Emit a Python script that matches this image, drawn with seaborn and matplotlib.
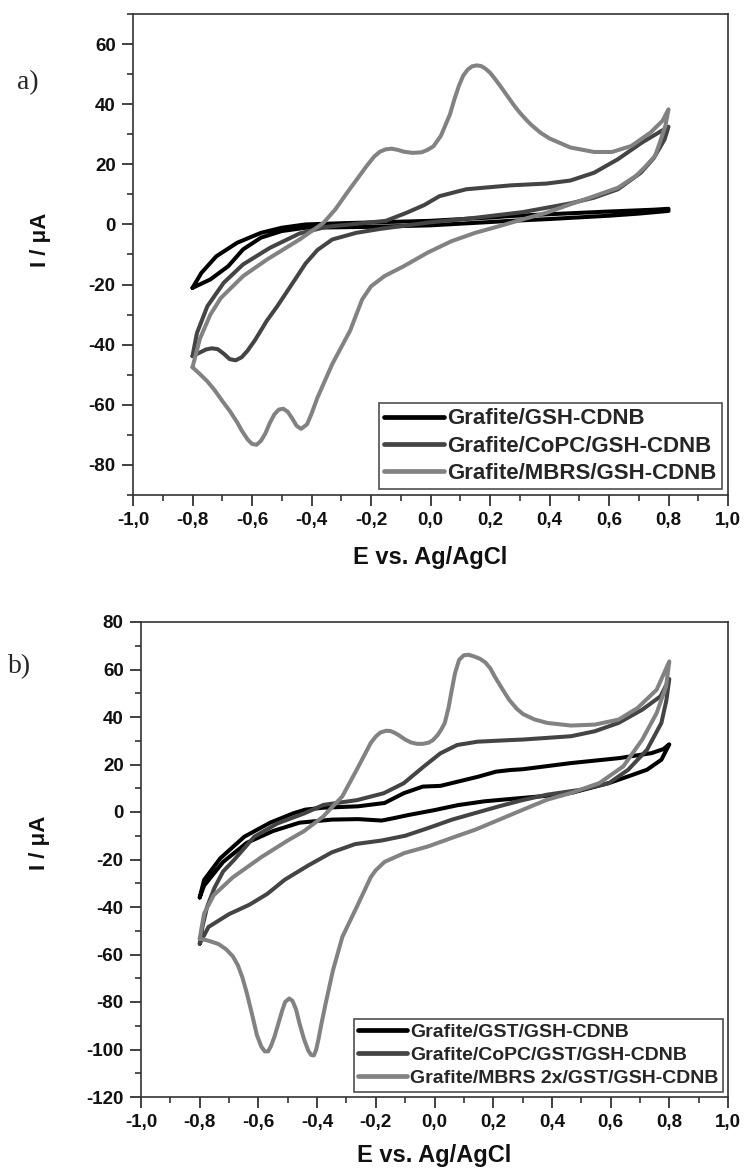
import numpy as np
import pandas as pd
import matplotlib
matplotlib.use("Agg")
import matplotlib.pyplot as plt
from matplotlib.ticker import MultipleLocator, FuncFormatter
import seaborn as sns

# ---------------- panel a: cyclic voltammograms ----------------
# anodic sweep (-0.8 -> 0.8 V) then cathodic sweep (0.8 -> -0.8 V)
a_black_fwd_E = [-0.80, -0.77, -0.72, -0.65, -0.57, -0.50, -0.42, -0.30, -0.15, 0.00, 0.20, 0.27, 0.40, 0.60, 0.75, 0.80]
a_black_fwd_I = [-21.1, -16.1, -10.6, -6.1, -2.8, -1.1, 0.0, 0.4, 0.8, 1.2, 2.3, 2.8, 3.4, 4.3, 4.9, 5.2]
a_black_rev_E = [0.80, 0.70, 0.60, 0.40, 0.27, 0.20, 0.00, -0.20, -0.42, -0.50, -0.57, -0.63, -0.68, -0.74, -0.80]
a_black_rev_I = [4.5, 3.6, 2.9, 1.8, 1.2, 0.8, -0.3, -0.8, -1.1, -2.2, -4.4, -8.3, -13.9, -18.3, -21.1]

a_copc_fwd_E = [-0.80, -0.785, -0.75, -0.695, -0.63, -0.54, -0.44, -0.35, -0.25, -0.15, -0.08, -0.02, 0.03, 0.12, 0.27, 0.39, 0.47, 0.55, 0.63, 0.71, 0.80]
a_copc_fwd_I = [-43.8, -36.1, -27.2, -19.4, -13.3, -7.8, -3.0, -0.8, 0.2, 1.2, 3.9, 6.5, 9.4, 11.7, 13.0, 13.6, 14.6, 17.2, 21.7, 27.2, 32.5]
a_copc_rev_E = [0.80, 0.787, 0.75, 0.707, 0.63, 0.55, 0.47, 0.31, 0.15, -0.01, -0.17, -0.25, -0.33, -0.38, -0.42, -0.46, -0.515, -0.55, -0.59, -0.615, -0.635, -0.655, -0.675, -0.695, -0.715, -0.735, -0.755, -0.775, -0.80]
a_copc_rev_I = [32.5, 28.3, 22.0, 17.2, 11.7, 8.9, 7.0, 4.1, 2.2, 0.6, -1.5, -2.8, -5.0, -8.5, -13.0, -19.0, -27.2, -32.0, -38.5, -42.0, -44.2, -45.2, -44.8, -43.0, -41.5, -41.2, -41.6, -42.6, -43.8]

a_mbrs_fwd_E = [-0.80, -0.775, -0.74, -0.705, -0.63, -0.55, -0.44, -0.36, -0.32, -0.28, -0.215, -0.19, -0.17, -0.15, -0.13, -0.11, -0.09, -0.06, -0.03, -0.01, 0.01, 0.035, 0.05, 0.065, 0.08, 0.095, 0.11, 0.125, 0.14, 0.155, 0.17, 0.185, 0.20, 0.22, 0.24, 0.26, 0.28, 0.30, 0.32, 0.34, 0.37, 0.40, 0.47, 0.55, 0.61, 0.675, 0.74, 0.78, 0.80]
a_mbrs_fwd_I = [-47.5, -38.0, -30.0, -24.5, -17.2, -11.7, -5.0, 0.5, 5.0, 10.6, 19.4, 22.5, 24.2, 25.0, 25.2, 24.8, 24.2, 23.8, 24.0, 24.8, 26.0, 29.5, 33.0, 36.5, 41.5, 46.0, 49.5, 51.5, 52.6, 52.9, 52.7, 51.8, 50.5, 48.0, 45.3, 42.5, 39.7, 37.2, 35.0, 33.0, 30.5, 28.6, 25.6, 24.1, 24.1, 26.1, 30.6, 34.5, 38.3]
a_mbrs_rev_E = [0.80, 0.79, 0.77, 0.755, 0.72, 0.69, 0.63, 0.55, 0.47, 0.39, 0.31, 0.23, 0.15, 0.07, -0.01, -0.09, -0.155, -0.20, -0.23, -0.27, -0.33, -0.38, -0.40, -0.415, -0.435, -0.45, -0.465, -0.48, -0.495, -0.51, -0.525, -0.54, -0.555, -0.57, -0.585, -0.60, -0.615, -0.635, -0.65, -0.675, -0.70, -0.725, -0.75, -0.775, -0.80]
a_mbrs_rev_I = [38.3, 33.0, 27.0, 22.8, 19.0, 16.1, 12.2, 9.4, 6.7, 3.9, 1.7, -0.6, -2.8, -5.6, -9.4, -13.9, -17.2, -20.6, -25.0, -35.3, -46.4, -57.6, -63.0, -66.5, -68.0, -67.0, -64.5, -62.3, -61.3, -61.6, -63.2, -66.0, -69.5, -72.0, -73.3, -73.0, -71.5, -68.5, -65.8, -62.0, -58.7, -55.2, -52.2, -49.8, -47.5]

# ---------------- panel b: cyclic voltammograms ----------------
b_black_fwd_E = [-0.80, -0.785, -0.73, -0.648, -0.56, -0.48, -0.44, -0.38, -0.26, -0.17, -0.105, -0.04, 0.02, 0.08, 0.15, 0.21, 0.26, 0.30, 0.465, 0.63, 0.74, 0.78, 0.80]
b_black_fwd_I = [-36.0, -28.6, -19.5, -10.4, -4.5, -0.5, 1.0, 1.8, 2.4, 3.8, 7.9, 10.7, 11.0, 12.8, 14.9, 17.0, 17.7, 18.0, 20.6, 22.7, 24.8, 26.5, 28.5]
b_black_rev_E = [0.80, 0.773, 0.724, 0.66, 0.595, 0.465, 0.38, 0.26, 0.17, 0.08, 0.00, -0.09, -0.135, -0.18, -0.26, -0.35, -0.46, -0.55, -0.64, -0.72, -0.785, -0.80]
b_black_rev_I = [28.5, 22.0, 17.8, 15.0, 12.2, 8.0, 6.8, 5.5, 4.5, 2.9, 0.8, -1.3, -2.5, -3.6, -3.0, -3.2, -4.5, -8.0, -13.0, -21.0, -31.0, -36.0]

b_copc_fwd_E = [-0.80, -0.79, -0.775, -0.75, -0.72, -0.683, -0.614, -0.535, -0.444, -0.378, -0.264, -0.173, -0.105, -0.037, 0.02, 0.077, 0.146, 0.26, 0.30, 0.465, 0.546, 0.627, 0.708, 0.77, 0.80]
b_copc_fwd_I = [-55.5, -48.0, -40.0, -32.0, -25.0, -20.2, -10.4, -4.8, -0.6, 3.0, 5.0, 7.9, 12.1, 19.1, 24.7, 28.2, 29.6, 30.3, 30.5, 31.9, 34.0, 37.5, 43.1, 48.7, 56.0]
b_copc_rev_E = [0.80, 0.79, 0.773, 0.724, 0.66, 0.595, 0.50, 0.384, 0.30, 0.22, 0.14, 0.06, -0.02, -0.10, -0.18, -0.27, -0.35, -0.43, -0.51, -0.57, -0.63, -0.70, -0.77, -0.80]
b_copc_rev_I = [56.0, 47.0, 37.5, 26.2, 17.8, 12.2, 9.4, 7.3, 5.0, 2.4, -0.4, -3.2, -6.7, -10.0, -12.0, -13.5, -17.0, -22.5, -28.5, -34.5, -39.0, -43.0, -48.4, -55.5]

b_mbrs_fwd_E = [-0.80, -0.785, -0.752, -0.687, -0.59, -0.50, -0.444, -0.38, -0.314, -0.265, -0.217, -0.20, -0.184, -0.165, -0.15, -0.135, -0.12, -0.10, -0.08, -0.06, -0.04, -0.02, -0.006, 0.01, 0.022, 0.035, 0.048, 0.059, 0.07, 0.084, 0.10, 0.116, 0.135, 0.155, 0.173, 0.19, 0.205, 0.23, 0.254, 0.28, 0.302, 0.34, 0.384, 0.465, 0.546, 0.627, 0.692, 0.757, 0.80]
b_mbrs_fwd_I = [-53.3, -42.7, -35.0, -27.5, -19.0, -12.0, -8.0, -2.0, 6.6, 17.8, 29.1, 31.8, 33.5, 34.2, 34.1, 33.3, 32.2, 30.5, 29.3, 28.7, 28.7, 29.2, 30.2, 32.3, 34.5, 37.5, 44.0, 51.5, 58.5, 64.1, 66.0, 66.2, 65.5, 64.5, 63.0, 60.5, 57.1, 52.0, 47.3, 43.5, 41.2, 39.0, 37.5, 36.4, 36.8, 38.9, 43.8, 51.5, 63.4]
b_mbrs_rev_E = [0.80, 0.789, 0.757, 0.708, 0.643, 0.562, 0.465, 0.384, 0.302, 0.221, 0.14, 0.059, -0.022, -0.103, -0.17, -0.20, -0.217, -0.265, -0.314, -0.346, -0.371, -0.385, -0.395, -0.403, -0.411, -0.42, -0.43, -0.445, -0.46, -0.472, -0.484, -0.495, -0.509, -0.52, -0.533, -0.545, -0.557, -0.567, -0.578, -0.59, -0.605, -0.622, -0.64, -0.655, -0.67, -0.687, -0.71, -0.736, -0.77, -0.80]
b_mbrs_rev_I = [63.4, 52.9, 41.7, 30.5, 19.2, 12.2, 8.0, 5.2, 1.0, -3.2, -7.4, -10.9, -14.5, -17.3, -21.0, -24.5, -27.4, -40.0, -52.6, -66.7, -80.7, -89.0, -95.5, -100.0, -102.5, -102.3, -100.5, -95.5, -89.0, -83.0, -79.5, -78.5, -80.0, -84.0, -89.5, -94.5, -98.5, -100.8, -100.8, -98.8, -94.0, -85.0, -76.0, -69.5, -64.5, -60.8, -57.8, -55.6, -54.2, -53.3]

a_labels = ["Grafite/GSH-CDNB", "Grafite/CoPC/GSH-CDNB", "Grafite/MBRS/GSH-CDNB"]
b_labels = ["Grafite/GST/GSH-CDNB", "Grafite/CoPC/GST/GSH-CDNB", "Grafite/MBRS 2x/GST/GSH-CDNB"]
x_ticks = [-1.0, -0.8, -0.6, -0.4, -0.2, 0.0, 0.2, 0.4, 0.6, 0.8, 1.0]
a_y_ticks = [-80, -60, -40, -20, 0, 20, 40, 60]
b_y_ticks = [-120, -100, -80, -60, -40, -20, 0, 20, 40, 60, 80]

colors = ["#000000", "#444444", "#828282"]

sns.set_theme(style="white")
plt.rcParams["font.family"] = ["Liberation Sans", "DejaVu Sans"]
plt.rcParams["font.weight"] = "bold"
plt.rcParams["axes.labelweight"] = "bold"

fig = plt.figure(figsize=(7.45, 11.71), dpi=100)
ax_a = fig.add_axes([133 / 745, 1 - 495 / 1171, 595 / 745, 481 / 1171])
ax_b = fig.add_axes([141 / 745, 1 - 1097 / 1171, 587 / 745, 475 / 1171])


def loop(fE, fI, rE, rI):
    return pd.DataFrame({"E": list(fE) + list(rE), "I": list(fI) + list(rI)})


def draw(ax, curves, labels, ylim, yticks, legend_size, handle_len):
    for (fE, fI, rE, rI), lab, col in zip(curves, labels, colors):
        df = loop(fE, fI, rE, rI)
        sns.lineplot(data=df, x="E", y="I", sort=False, estimator=None, ax=ax,
                     color=col, lw=2.9, label=lab, solid_joinstyle="round",
                     solid_capstyle="round")
    ax.set_xlim(-1.0, 1.0)
    ax.set_ylim(*ylim)
    ax.set_xticks(x_ticks)
    ax.set_yticks(yticks)
    ax.xaxis.set_minor_locator(MultipleLocator(0.1))
    ax.yaxis.set_minor_locator(MultipleLocator(10))
    ax.xaxis.set_major_formatter(FuncFormatter(lambda v, p: f"{round(v, 1):.1f}".replace(".", ",").replace("-0,0", "0,0")))
    ax.yaxis.set_major_formatter(FuncFormatter(lambda v, p: f"{int(round(v))}"))
    ax.tick_params(axis="both", which="major", direction="out", length=8, width=1.3,
                   color="#333333", labelsize=13.5, pad=4.5, bottom=True, left=True,
                   top=False, right=False, labelcolor="#111111")
    ax.tick_params(axis="both", which="minor", direction="out", length=4.5, width=1.2,
                   color="#333333", bottom=True, left=True, top=False, right=False)
    for lbl in ax.get_xticklabels() + ax.get_yticklabels():
        lbl.set_fontweight("bold")
    for sp in ax.spines.values():
        sp.set_visible(True)
        sp.set_color("#333333")
        sp.set_linewidth(1.2)
    ax.set_xlabel("E vs. Ag/AgCl", fontsize=17, fontweight="bold", color="#111111")
    ax.set_ylabel("I / \u03bcA", fontsize=16, fontweight="bold", color="#111111")
    leg = ax.legend(loc="lower right", frameon=True, fancybox=False,
                    edgecolor="#222222", borderpad=0.25, labelspacing=0.28,
                    handlelength=handle_len, handletextpad=0.15, borderaxespad=0.25,
                    prop={"weight": "bold", "size": legend_size})
    leg.get_frame().set_linewidth(1.2)
    for line in leg.get_lines():
        line.set_linewidth(3.4)


draw(ax_a,
     [(a_black_fwd_E, a_black_fwd_I, a_black_rev_E, a_black_rev_I),
      (a_copc_fwd_E, a_copc_fwd_I, a_copc_rev_E, a_copc_rev_I),
      (a_mbrs_fwd_E, a_mbrs_fwd_I, a_mbrs_rev_E, a_mbrs_rev_I)],
     a_labels, (-90, 70), a_y_ticks, 16, 2.7)
draw(ax_b,
     [(b_black_fwd_E, b_black_fwd_I, b_black_rev_E, b_black_rev_I),
      (b_copc_fwd_E, b_copc_fwd_I, b_copc_rev_E, b_copc_rev_I),
      (b_mbrs_fwd_E, b_mbrs_fwd_I, b_mbrs_rev_E, b_mbrs_rev_I)],
     b_labels, (-120, 80), b_y_ticks, 14, 2.5)

ax_a.xaxis.set_label_coords(0.5, -0.105)
ax_a.yaxis.set_label_coords(-0.137, 0.53)
ax_b.xaxis.set_label_coords(0.5, -0.098)
ax_b.yaxis.set_label_coords(-0.155, 0.535)

fig.text(17 / 745, 1 - 83 / 1171, "a)", family=["Liberation Serif", "DejaVu Serif"],
         fontsize=20, va="center", ha="left", fontweight="normal")
fig.text(8 / 745, 1 - 667 / 1171, "b)", family=["Liberation Serif", "DejaVu Serif"],
         fontsize=20, va="center", ha="left", fontweight="normal")

fig.savefig("out.png", dpi=100, facecolor="white")
